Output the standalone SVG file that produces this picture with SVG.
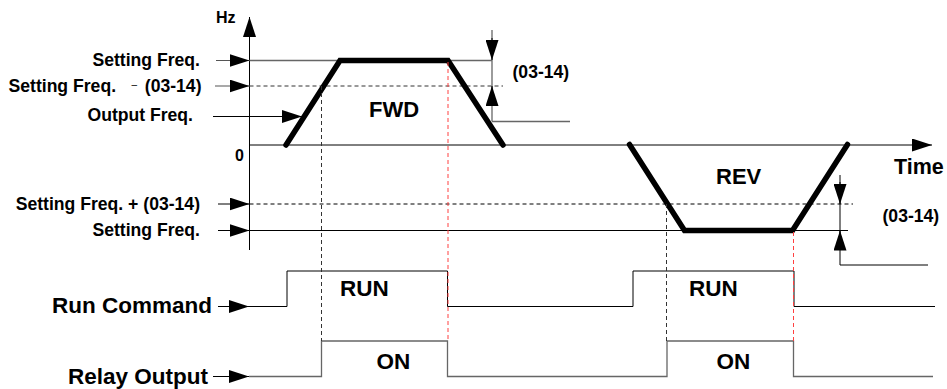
<svg xmlns="http://www.w3.org/2000/svg" width="947" height="389" viewBox="0 0 947 389">
<defs>
<marker id="ah" markerUnits="userSpaceOnUse" markerWidth="20" markerHeight="13" refX="20" refY="6.5" orient="auto">
<path d="M0,0 L20,6.5 L0,13 z" fill="#000"/>
</marker>
<style>
text{font-family:"Liberation Sans",Arial,sans-serif;font-weight:bold;fill:#000}
.s{font-size:17.6px}
.b{font-size:22.5px}
.ln{fill:none;stroke:#000;stroke-width:1}
.gr{fill:none;stroke:#666;stroke-width:1.3}
.dg{fill:none;stroke:#333;stroke-width:1;stroke-dasharray:4,3}
.dk{fill:none;stroke:#000;stroke-width:1;stroke-dasharray:4,3}
.dr{fill:none;stroke:#ff4040;stroke-width:1;stroke-dasharray:4,3}
.thk{fill:none;stroke:#000;stroke-width:5.5;stroke-linecap:round;stroke-linejoin:miter}
.arr{fill:none;stroke:#000;stroke-width:1;marker-end:url(#ah)}
.arg{fill:none;stroke:#555;stroke-width:1.2;marker-end:url(#ah)}
</style>
</defs>
<rect width="947" height="389" fill="#fff"/>

<g id="axes">
<line class="arr" x1="249.5" y1="250" x2="249.5" y2="17"/>
<line class="arr" x1="249.5" y1="145" x2="932" y2="145"/>
<text x="216" y="22.5" style="font-size:16px">Hz</text>
<text x="235" y="161" style="font-size:16px">0</text>
<text x="894" y="173.5" style="font-size:21.5px">Time</text>
</g>

<g id="reference-lines">
<line class="gr" x1="249.5" y1="60.5" x2="492" y2="60.5"/>
<line class="dg" x1="249.5" y1="86" x2="503" y2="86"/>
<line class="dk" x1="249.5" y1="204" x2="853" y2="204"/>
<line class="ln" x1="249.5" y1="230.5" x2="848" y2="230.5"/>
</g>

<g id="label-setting-freq-top">
<text class="s" x="200" y="66" text-anchor="end">Setting Freq.</text>
<line class="arg" x1="216" y1="60.5" x2="249.5" y2="60.5"/>
</g>
<g id="label-setting-freq-minus">
<text class="s" x="8.5" y="92">Setting Freq.</text>
<text x="131.5" y="88" style="font-size:10px;font-weight:normal">–</text>
<text class="s" x="201.5" y="92" text-anchor="end">(03-14)</text>
<line class="arg" x1="215" y1="86" x2="249.5" y2="86"/>
</g>
<g id="label-output-freq">
<text class="s" x="193" y="120.5" text-anchor="end">Output Freq.</text>
<line class="arr" x1="213" y1="116.5" x2="302" y2="116.5"/>
</g>
<g id="label-setting-freq-plus">
<text class="s" x="200" y="209.5" text-anchor="end">Setting Freq. + (03-14)</text>
<line class="arr" x1="218" y1="204" x2="249.5" y2="204"/>
</g>
<g id="label-setting-freq-bottom">
<text class="s" x="200" y="236" text-anchor="end">Setting Freq.</text>
<line class="arr" x1="218" y1="230.5" x2="249.5" y2="230.5"/>
</g>

<g id="fwd">
<polyline class="thk" points="286,145 340,60.5 448,60.5 503,145"/>
<text x="369" y="117" style="font-size:22px">FWD</text>
</g>
<g id="rev">
<polyline class="thk" points="629.5,144.5 684.5,230.5 792.5,230.5 847.5,144.5"/>
<text x="716" y="183.5" style="font-size:22px">REV</text>
</g>

<g id="dim-fwd">
<line class="gr" x1="492" y1="30" x2="492" y2="121.5"/>
<line class="arr" x1="492" y1="38" x2="492" y2="60"/>
<line class="arr" x1="492" y1="105" x2="492" y2="86"/>
<line class="gr" x1="492" y1="121.5" x2="570" y2="121.5"/>
<text class="s" x="512.5" y="78">(03-14)</text>
</g>
<g id="dim-rev">
<line class="ln" x1="840" y1="175" x2="840" y2="265"/>
<line class="arr" x1="840" y1="182" x2="840" y2="204"/>
<line class="arr" x1="840" y1="248" x2="840" y2="230.5"/>
<line class="ln" x1="840" y1="265" x2="928" y2="265"/>
<text class="s" x="882.5" y="221.5">(03-14)</text>
</g>

<g id="run-command">
<text class="b" x="212" y="313" text-anchor="end">Run Command</text>
<line class="arr" x1="218" y1="306.5" x2="249" y2="306.5"/>
<polyline class="ln" points="249,306.5 287,306.5 287,271 447.5,271 447.5,306.5 633,306.5 633,271 794,271 794,306.5 935,306.5"/>
<text class="b" x="340" y="296">RUN</text>
<text class="b" x="689" y="296">RUN</text>
</g>

<g id="relay-output">
<text class="b" x="208" y="384" text-anchor="end">Relay Output</text>
<line class="arr" x1="213" y1="376.5" x2="249" y2="376.5"/>
<polyline class="gr" points="249,376.5 321.5,376.5 321.5,341 447.5,341 447.5,376.5 667,376.5 667,341 793.5,341 793.5,376.5 933,376.5"/>
<text class="b" x="376.5" y="369">ON</text>
<text class="b" x="716.5" y="369">ON</text>
</g>

<g id="connectors">
<line class="dg" x1="321.5" y1="86" x2="321.5" y2="341"/>
<line class="dr" x1="448" y1="62" x2="448" y2="341"/>
<line class="dg" x1="666.5" y1="204" x2="666.5" y2="341"/>
<line class="dr" x1="793.5" y1="232" x2="793.5" y2="341"/>
</g>
</svg>
